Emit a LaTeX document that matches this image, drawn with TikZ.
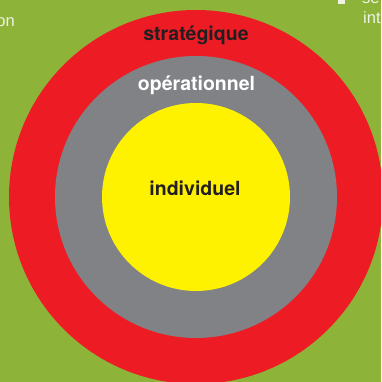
\documentclass[tikz,border=0pt]{standalone}
\usepackage{fontspec}
\setmainfont{TeX Gyre Heros}
\newfontfamily\lightsans{Liberation Sans}
\definecolor{leafgreen}{RGB}{141,180,57}
\definecolor{ringred}{RGB}{237,28,36}
\definecolor{ringgray}{RGB}{128,130,133}
\definecolor{coreyellow}{RGB}{255,242,0}
\definecolor{inkdark}{RGB}{35,31,32}
\definecolor{paletext}{RGB}{238,243,228}
\tikzset{
  x=1pt, y=1pt,
  ring/.style={circle, inner sep=0pt, minimum size=#1},
  levellabel/.style={anchor=base, font=\bfseries\fontsize{19.5}{22}\selectfont, inner sep=0pt},
  sidetext/.style={font=\lightsans\fontsize{16.5}{20}\selectfont, text=paletext, inner sep=0pt}
}
\begin{document}
\begin{tikzpicture}
  \useasboundingbox (0,0) rectangle (381,382);
  \clip (0,0) rectangle (381,382);
  \fill[leafgreen] (0,0) rectangle (381,382);

  % concentric levels, centred at (196,185)
  \coordinate (c) at (196,185);
  \node[ring=374pt, fill=ringred] (outer) at (c) {};
  \node[ring=282pt, fill=ringgray] (middle) at (c) {};
  \node[ring=188pt, fill=coreyellow] (inner) at (c) {};

  % level names
  \node[levellabel, text=inkdark] (strat) at (196,341.3) {stratégique};
  \node[levellabel, text=white] (oper) at (196.5,291) {opérationnel};
  \node[levellabel, text=inkdark] (indiv) at (195,186.3) {individuel};

  % fragments of the surrounding page text
  \node[sidetext, anchor=base east] (leftfrag) at (15,355.3) {on};
  \node[sidetext, anchor=base west] (rightfrag) at (363,358) {int};
  \node[sidetext, anchor=base west] (topfrag) at (362,378) {se};
  \fill[paletext] (338,378) rectangle (345,385);
\end{tikzpicture}
\end{document}
